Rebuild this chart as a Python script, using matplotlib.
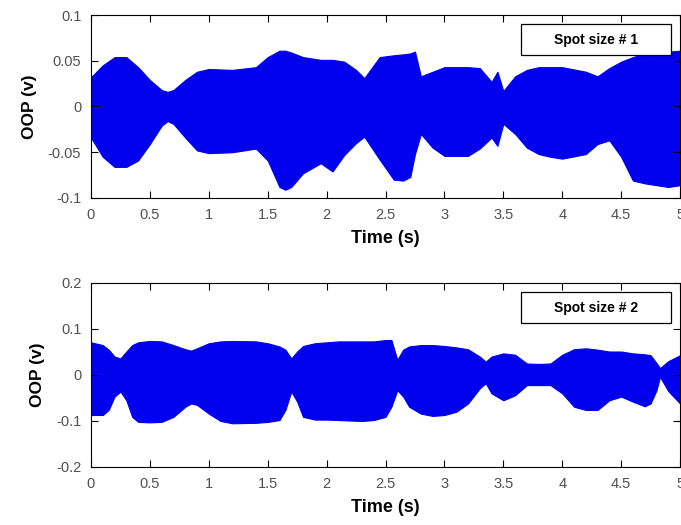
import numpy as np
import matplotlib
matplotlib.use("Agg")
import matplotlib.pyplot as plt
from matplotlib.patches import Rectangle

plt.rcParams['font.family'] = ['Liberation Sans', 'DejaVu Sans']

# envelope of the OOP signal, spot size 1
t1 = [0.0, 0.1, 0.2, 0.3, 0.4, 0.5, 0.6, 0.65, 0.7, 0.8, 0.9, 1.0, 1.2, 1.4,
      1.5, 1.6, 1.65, 1.7, 1.8, 1.95, 2.05, 2.15, 2.25, 2.32, 2.45, 2.57, 2.65,
      2.71, 2.75, 2.8, 2.9, 3.0, 3.2, 3.3, 3.4, 3.45, 3.5, 3.6, 3.7, 3.8, 3.9,
      4.0, 4.2, 4.3, 4.4, 4.5, 4.6, 4.7, 4.8, 4.9, 5.0]
top1 = [0.032, 0.045, 0.054, 0.054, 0.043, 0.029, 0.018, 0.016, 0.018, 0.029,
        0.038, 0.041, 0.040, 0.043, 0.054, 0.061, 0.061, 0.059, 0.054, 0.051,
        0.051, 0.049, 0.040, 0.031, 0.054, 0.056, 0.057, 0.058, 0.060, 0.033,
        0.038, 0.043, 0.043, 0.042, 0.027, 0.038, 0.017, 0.033, 0.040, 0.043,
        0.043, 0.043, 0.038, 0.033, 0.042, 0.049, 0.054, 0.058, 0.060, 0.060,
        0.061]
bot1 = [-0.034, -0.055, -0.066, -0.066, -0.059, -0.041, -0.021, -0.016, -0.019,
        -0.034, -0.048, -0.051, -0.050, -0.046, -0.059, -0.088, -0.091, -0.088,
        -0.073, -0.062, -0.071, -0.053, -0.040, -0.033, -0.058, -0.080, -0.081,
        -0.077, -0.052, -0.030, -0.045, -0.054, -0.054, -0.046, -0.034, -0.043,
        -0.019, -0.030, -0.045, -0.052, -0.055, -0.057, -0.052, -0.041, -0.037,
        -0.055, -0.081, -0.084, -0.086, -0.088, -0.086]

# envelope of the OOP signal, spot size 2
t2 = [0.0, 0.1, 0.15, 0.2, 0.25, 0.3, 0.35, 0.4, 0.5, 0.6, 0.7, 0.8, 0.85, 0.9,
      1.0, 1.1, 1.2, 1.4, 1.5, 1.6, 1.65, 1.7, 1.75, 1.8, 1.9, 2.0, 2.1, 2.3,
      2.4, 2.5, 2.55, 2.6, 2.65, 2.7, 2.8, 2.9, 3.0, 3.1, 3.2, 3.3, 3.35, 3.4,
      3.5, 3.6, 3.7, 3.8, 3.9, 4.0, 4.1, 4.2, 4.3, 4.4, 4.5, 4.6, 4.7, 4.75,
      4.8, 4.83, 4.9, 5.0]
top2 = [0.071, 0.065, 0.055, 0.040, 0.036, 0.051, 0.065, 0.071, 0.074, 0.073,
        0.065, 0.056, 0.053, 0.058, 0.069, 0.073, 0.074, 0.073, 0.069, 0.062,
        0.055, 0.036, 0.051, 0.063, 0.069, 0.071, 0.073, 0.073, 0.073, 0.076,
        0.076, 0.033, 0.055, 0.062, 0.065, 0.065, 0.063, 0.060, 0.056, 0.040,
        0.029, 0.040, 0.047, 0.044, 0.025, 0.024, 0.025, 0.044, 0.056, 0.058,
        0.055, 0.051, 0.051, 0.047, 0.045, 0.043, 0.026, 0.015, 0.030, 0.043]
bot2 = [-0.087, -0.087, -0.076, -0.047, -0.036, -0.055, -0.091, -0.102, -0.103,
        -0.102, -0.091, -0.069, -0.062, -0.065, -0.084, -0.100, -0.105, -0.104,
        -0.102, -0.098, -0.076, -0.036, -0.058, -0.091, -0.097, -0.097, -0.098,
        -0.100, -0.098, -0.091, -0.069, -0.033, -0.047, -0.069, -0.084, -0.089,
        -0.087, -0.080, -0.062, -0.029, -0.018, -0.040, -0.055, -0.044, -0.022,
        -0.022, -0.022, -0.040, -0.069, -0.076, -0.076, -0.055, -0.047, -0.058,
        -0.068, -0.062, -0.033, -0.004, -0.035, -0.062]

xticks = [0, 0.5, 1, 1.5, 2, 2.5, 3, 3.5, 4, 4.5, 5]
xticklabels = ['0', '0.5', '1', '1.5', '2', '2.5', '3', '3.5', '4', '4.5', '5']

panels = [
    (t1, top1, bot1, (-0.1, 0.1), [-0.1, -0.05, 0, 0.05, 0.1],
     ['-0.1', '-0.05', '0', '0.05', '0.1'], 'Spot size # 1'),
    (t2, top2, bot2, (-0.2, 0.2), [-0.2, -0.1, 0, 0.1, 0.2],
     ['-0.2', '-0.1', '0', '0.1', '0.2'], 'Spot size # 2'),
]
rects = [[0.1336, 0.6229, 0.8650, 0.3485], [0.1336, 0.1105, 0.8650, 0.3505]]

fig = plt.figure(figsize=(6.81, 5.25), dpi=100)
for rect, (t, top, bot, ylim, yt, ytl, tag) in zip(rects, panels):
    ax = fig.add_axes(rect)
    ax.fill_between(t, bot, top, color='#0000ee', lw=0.8, edgecolor='#0000ee')
    ax.set_xlim(0, 5)
    ax.set_ylim(*ylim)
    ax.set_xticks(xticks)
    ax.set_xticklabels(xticklabels)
    ax.set_yticks(yt)
    ax.set_yticklabels(ytl)
    ax.tick_params(direction='in', top=True, right=True, length=5, width=0.8,
                   labelsize=10.5, labelcolor='#505050', pad=7)
    for s in ax.spines.values():
        s.set_linewidth(0.8)
    ax.set_xlabel('Time (s)', fontsize=13, fontweight='bold', labelpad=6)
    ax.set_ylabel('OOP (v)', fontsize=12.5, fontweight='bold', labelpad=8)
    # label box in the upper right corner
    ax.add_patch(Rectangle((0.730, 0.780), 0.255, 0.170, transform=ax.transAxes,
                           fc='white', ec='black', lw=0.9, zorder=5))
    ax.text(0.8575, 0.865, tag, transform=ax.transAxes, ha='center', va='center',
            fontsize=10, fontweight='bold', zorder=6)

fig.savefig('out.png', dpi=100)
